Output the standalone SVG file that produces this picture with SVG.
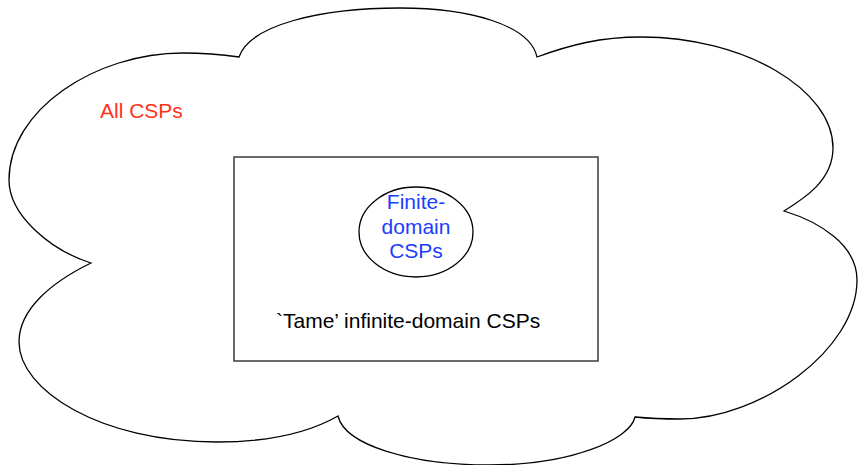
<svg xmlns="http://www.w3.org/2000/svg" width="858" height="465" viewBox="0 0 858 465">
<style>
.t{font-family:"Liberation Sans",Arial,sans-serif;font-size:21px}
.shape{fill:none;stroke:#000;stroke-width:1.3}
</style>
<rect width="858" height="465" fill="#fff"/>
<g id="all-csps">
<path class="shape" d="M91,263 C50,250 9,215 9,180 C9,110 95,53 183,53 C205,53 225,55 239,57 C250,25 320,8 400,8 C470,8 530,25 537,57 C570,45 600,37 641,37 C745,37 833,90 833,148 C833,180 805,198 784,211 C820,222 857,245 857,280 C857,350 760,419 680,419 C660,419 645,418 635,417 C630,440 570,465 490,465 C410,465 345,445 338,416 C310,432 270,442 217,442 C100,442 19,390 19,342 C19,310 50,283 91,263 Z"/>
<text class="t" x="100" y="118" fill="#ff3219">All CSPs</text>
</g>
<g id="tame">
<rect x="234" y="157" width="364" height="204" fill="none" stroke="#3a3a3a" stroke-width="1.5"/>
<text class="t" x="276" y="328" fill="#000">`Tame’ infinite-domain CSPs</text>
</g>
<g id="finite">
<ellipse class="shape" cx="416" cy="232" rx="57" ry="45"/>
<text class="t" text-anchor="middle" fill="#1a3dff"><tspan x="416" y="209">Finite-</tspan><tspan x="416" y="233.5">domain</tspan><tspan x="416" y="258">CSPs</tspan></text>
</g>
<g id="connectors"/>
</svg>
